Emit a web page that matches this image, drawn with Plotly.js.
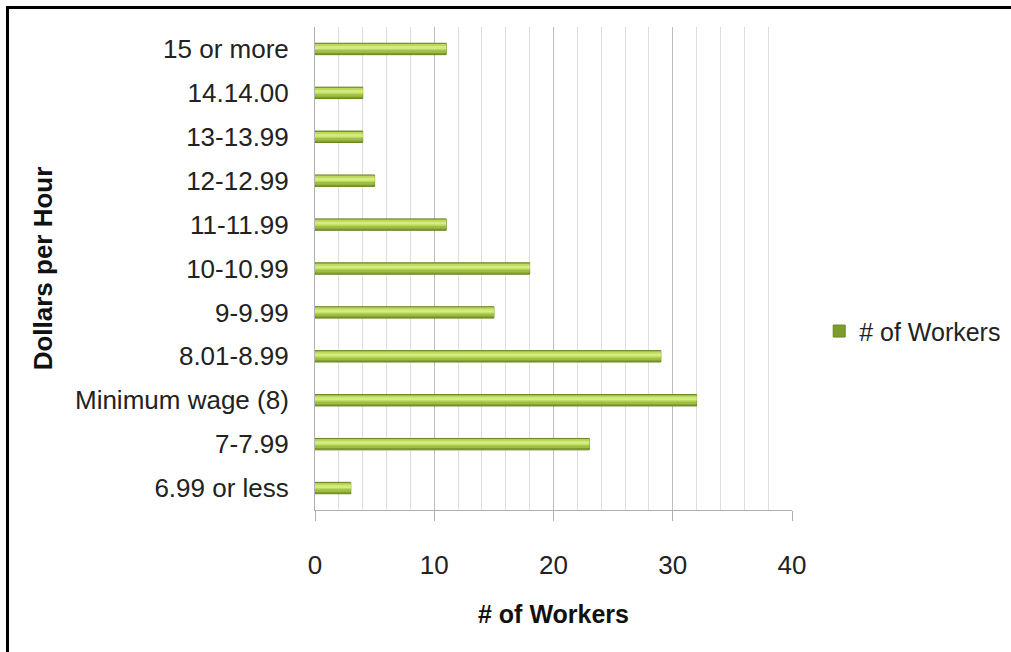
<!DOCTYPE html>
<html>
<head>
<meta charset="utf-8">
<script src="https://cdn.plot.ly/plotly-3.0.1.min.js"></script>
<style>
html,body{margin:0;padding:0;background:#fff;overflow:hidden;}
#wrap{position:relative;width:1011px;height:652px;}
#chart{width:1011px;height:652px;}
#frame{position:absolute;left:6px;top:6px;width:1100px;height:700px;border-top:3px solid #000;border-left:3px solid #000;pointer-events:none;box-sizing:border-box;}
</style>
</head>
<body>
<div id="wrap"><div id="chart"></div><div id="frame"></div></div>
<script>
const categories = ["6.99 or less","7-7.99","Minimum wage (8)","8.01-8.99","9-9.99","10-10.99","11-11.99","12-12.99","13-13.99","14.14.00","15 or more"];
const workers = [3,23,32,29,15,18,11,5,4,4,11];
const seriesName = "# of Workers";
const xTicks = [0,10,20,30,40];

const FONT = "Liberation Sans, Arial, sans-serif";

function layerTrace(color, width, offset, show, lineColor) {
  return {
    type: "bar", orientation: "h",
    x: workers, y: categories,
    name: seriesName, showlegend: show,
    width: width, offset: offset,
    marker: {color: color, line: {color: lineColor || color, width: lineColor ? 1 : 0}},
    hoverinfo: show ? "x+y" : "skip"
  };
}

const traces = [
  layerTrace("#7e9c2e", 0.26, -0.13, true, "#6a8722"),
  layerTrace("#9ebd45", 0.20, -0.09, false),
  layerTrace("#bcd95e", 0.14, -0.03, false),
  layerTrace("#d4ec7e", 0.065, 0.0, false)
];

const layout = {
  width: 1011, height: 652,
  margin: {l: 315, r: 219, t: 27, b: 142, autoexpand: false},
  paper_bgcolor: "#ffffff", plot_bgcolor: "#ffffff",
  barmode: "overlay",
  font: {family: FONT, color: "#222", size: 26},
  showlegend: true,
  legend: {x: 1.057, y: 0.37, xanchor: "left", yanchor: "middle",
           font: {family: FONT, size: 25, color: "#222"}, bgcolor: "rgba(0,0,0,0)",
           itemwidth: 30, tracegroupgap: 0},
  xaxis: {
    range: [0, 40], tickvals: xTicks, ticktext: xTicks.map(String),
    showgrid: true, gridcolor: "#bdbdbd", gridwidth: 1,
    minor: {dtick: 2, showgrid: true, gridcolor: "#dedede", gridwidth: 1},
    showline: true, linecolor: "#b0b0b0", linewidth: 1,
    ticks: "outside", ticklen: 10, tickcolor: "#b0b0b0",
    ticklabelstandoff: 22,
    zeroline: false, fixedrange: true,
    tickfont: {family: FONT, size: 26, color: "#222"},
    title: {text: "# of Workers", standoff: 26, font: {family: FONT, size: 25, color: "#111", weight: "bold"}}
  },
  yaxis: {
    type: "category", categoryorder: "array", categoryarray: categories,
    range: [-0.5, 10.5],
    showgrid: false, showline: true, linecolor: "#b0b0b0", linewidth: 1,
    ticks: "", ticklabelstandoff: 20, zeroline: false, fixedrange: true,
    tickfont: {family: FONT, size: 26, color: "#222"},
    title: {text: "Dollars per Hour", standoff: 14, font: {family: FONT, size: 26, color: "#111", weight: "bold"}}
  }
};

Plotly.newPlot("chart", traces, layout, {displayModeBar: false, staticPlot: true});
</script>
</body>
</html>
